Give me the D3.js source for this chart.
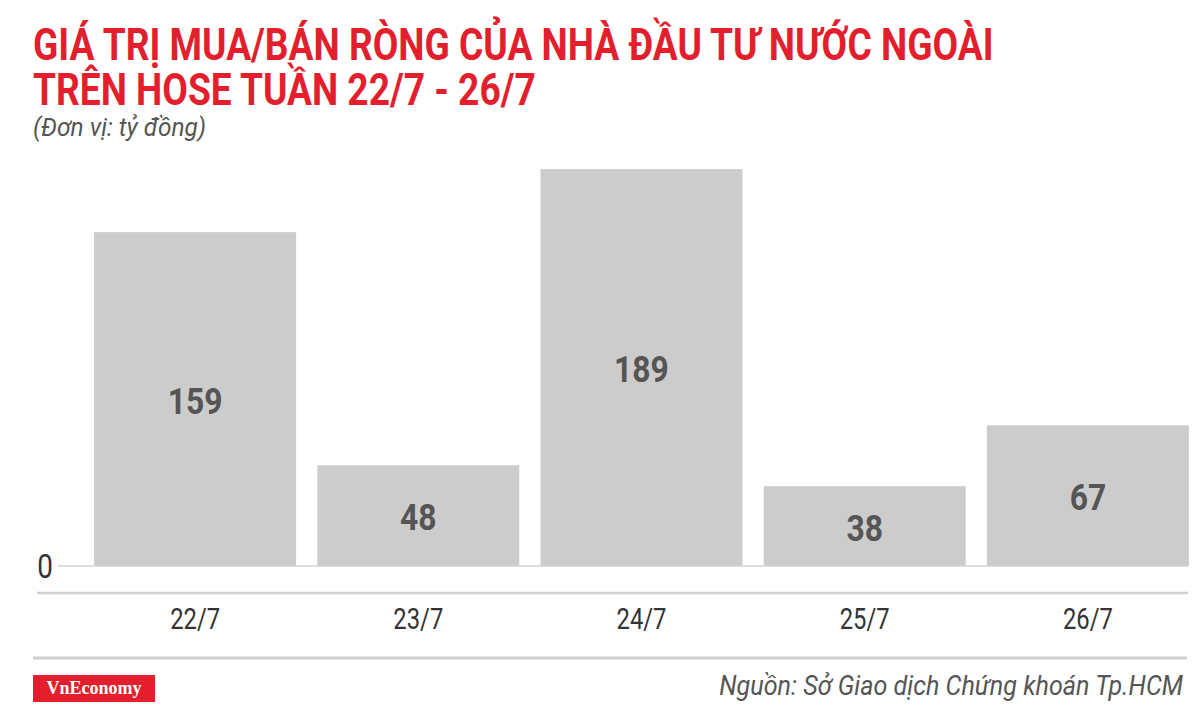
<!DOCTYPE html>
<html>
<head>
<meta charset="utf-8">
<script src="https://cdn.jsdelivr.net/npm/d3@7"></script>
<style>
  body { margin: 0; background: #fff; }
  svg { display: block; font-family: Roboto, "Noto Sans", sans-serif; }
</style>
</head>
<body>
<div id="chart"></div>
<script>
// du lieu
var days = ['22/7', '23/7', '24/7', '25/7', '26/7'];
var values = [159, 48, 189, 38, 67];
var titleLines = ['GIÁ TRỊ MUA/BÁN RÒNG CỦA NHÀ ĐẦU TƯ NƯỚC NGOÀI', 'TRÊN HOSE TUẦN 22/7 - 26/7'];
var unitText = '(Đơn vị: tỷ đồng)';
var sourceText = 'Nguồn: Sở Giao dịch Chứng khoán Tp.HCM';

var W = 1200, H = 712;
var red = '#e31f2d';

var svg = d3.select('#chart').append('svg')
    .attr('width', W)
    .attr('height', H);

// fake a condensed font by squeezing the text horizontally
var condense = function(sel, k) {
    sel.each(function() {
        var len = this.getComputedTextLength();
        d3.select(this).attr('textLength', len * k).attr('lengthAdjust', 'spacingAndGlyphs');
    });
};

var x = d3.scaleBand()
    .domain(days)
    .range([83.5, 1199.5])
    .paddingInner(0.095)
    .paddingOuter(0.0475);

var y = d3.scaleLinear()
    .domain([0, 200])
    .range([566, 146]);

// title
svg.selectAll('.title')
    .data(titleLines)
    .enter()
    .append('text')
    .attr('class', 'title')
    .attr('x', 33)
    .attr('y', function(d, i) { return 60 + i * 45; })
    .attr('fill', red)
    .attr('font-size', 45)
    .attr('font-weight', 'bold')
    .text(function(d) { return d; })
    .call(condense, 0.825);

svg.append('text')
    .attr('x', 33)
    .attr('y', 136)
    .attr('fill', '#555')
    .attr('font-size', 26)
    .attr('font-style', 'italic')
    .text(unitText)
    .call(condense, 0.94);

// bars
svg.selectAll('.bar')
    .data(values)
    .enter()
    .append('rect')
    .attr('class', 'bar')
    .attr('x', function(d, i) { return x(days[i]); })
    .attr('y', function(d) { return y(d); })
    .attr('width', x.bandwidth())
    .attr('height', function(d) { return y(0) - y(d); })
    .attr('fill', '#cdcccc');

svg.selectAll('.val')
    .data(values)
    .enter()
    .append('text')
    .attr('class', 'val')
    .attr('x', function(d, i) { return x(days[i]) + x.bandwidth() / 2; })
    .attr('y', function(d) { return (y(d) + y(0)) / 2; })
    .attr('text-anchor', 'middle')
    .attr('dy', '0.4em')
    .attr('fill', '#555')
    .attr('font-size', 37)
    .attr('font-weight', 'bold')
    .text(function(d) { return d; })
    .call(condense, 0.86);

// zero line + label
svg.append('line')
    .attr('x1', 58).attr('x2', 1188)
    .attr('y1', y(0)).attr('y2', y(0))
    .attr('stroke', '#d3d3d3')
    .attr('stroke-width', 1.5);

svg.append('text')
    .attr('x', 45)
    .attr('y', y(0))
    .attr('dy', '0.36em')
    .attr('text-anchor', 'middle')
    .attr('fill', '#333')
    .attr('font-size', 34)
    .text('0')
    .call(condense, 0.82);

// x axis
var xAxis = svg.append('g')
    .attr('transform', 'translate(0,593)')
    .call(d3.axisBottom(x).tickSize(0).tickPadding(15));
xAxis.select('.domain').remove();
svg.append('line')
    .attr('x1', 37).attr('x2', 1188)
    .attr('y1', 593).attr('y2', 593)
    .attr('stroke', '#d0d0d0')
    .attr('stroke-width', 2.5);
xAxis.selectAll('text')
    .attr('font-family', 'Roboto, sans-serif')
    .attr('font-size', 29)
    .attr('fill', '#333')
    .attr('dy', '0.72em')
    .call(condense, 0.82);

// footer
svg.append('line')
    .attr('x1', 33).attr('x2', 1187)
    .attr('y1', 658).attr('y2', 658)
    .attr('stroke', '#d0d0d0')
    .attr('stroke-width', 3);

svg.append('rect')
    .attr('x', 33).attr('y', 675)
    .attr('width', 122).attr('height', 27)
    .attr('fill', red);
svg.append('text')
    .attr('x', 94).attr('y', 694)
    .attr('text-anchor', 'middle')
    .attr('fill', '#fff')
    .attr('font-family', '"Liberation Serif", "DejaVu Serif", serif')
    .attr('font-weight', 'bold')
    .attr('font-size', 18)
    .text('VnEconomy');

// source, right aligned at 1183 (anchored at start so the squeezed box stays inside)
var src = svg.append('text')
    .attr('y', 695)
    .attr('fill', '#555')
    .attr('font-size', 27)
    .attr('font-style', 'italic')
    .text(sourceText)
    .call(condense, 0.93);
src.attr('x', 1183 - (+src.attr('textLength')));
</script>
</body>
</html>
